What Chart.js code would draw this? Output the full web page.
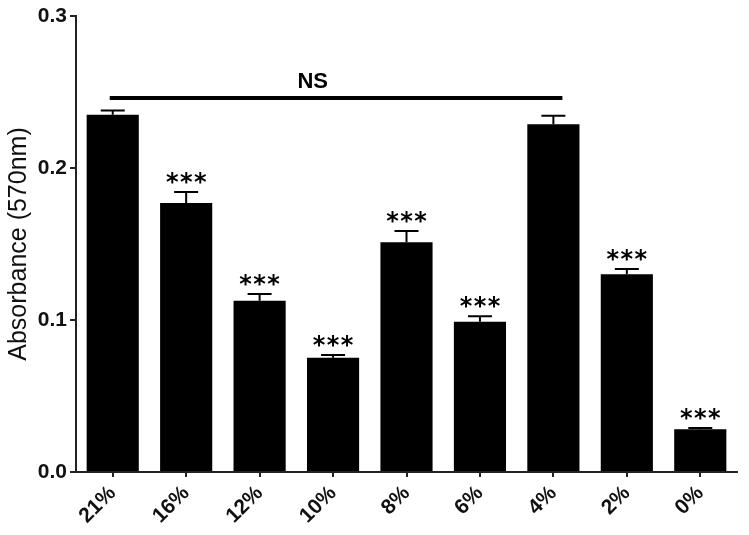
<!DOCTYPE html>
<html>
<head>
<meta charset="utf-8">
<title>Absorbance</title>
<style>
    body { margin: 0; background: #fff; }
    canvas { display: block; }
</style>
<script src="https://cdn.jsdelivr.net/npm/chart.js"></script>
</head>
<body>
<canvas id="myChart" width="749" height="535"></canvas>
<script>
    // oxygen levels on the x axis
    var labels = ['21%', '16%', '12%', '10%', '8%', '6%', '4%', '2%', '0%'];
    // mean absorbance and upper error (SEM)
    var means = [0.235, 0.177, 0.1127, 0.0752, 0.1511, 0.0989, 0.2288, 0.1301, 0.0281];
    var errors = [0.0028, 0.0072, 0.0044, 0.0018, 0.0075, 0.0035, 0.0056, 0.0035, 0.0008];
    var stars = ['', '***', '***', '***', '***', '***', '', '***', '***'];
    var yTicks = [0.0, 0.1, 0.2, 0.3];
    // "NS" bracket: from first to last group, at this height
    var nsFrom = 0, nsTo = 6, nsLevel = 0.246, nsText = 'NS';

    var axisColor = '#222';

    var errorPlugin = {
        id: 'errorBars',
        afterDatasetsDraw: function (chart) {
            var ctx = chart.ctx;
            var y = chart.scales.y;
            var x = chart.scales.x;
            var meta = chart.getDatasetMeta(0);
            ctx.save();
            ctx.strokeStyle = '#000';
            ctx.fillStyle = '#000';
            ctx.lineWidth = 2;
            meta.data.forEach(function (bar, i) {
                var top = y.getPixelForValue(means[i] + errors[i]);
                ctx.beginPath();
                ctx.moveTo(bar.x, bar.y);
                ctx.lineTo(bar.x, top);
                ctx.moveTo(bar.x - 12, top);
                ctx.lineTo(bar.x + 12, top);
                ctx.stroke();
                if (stars[i]) {
                    ctx.font = 'bold 24px "DejaVu Sans"';
                    ctx.textAlign = 'center';
                    ctx.textBaseline = 'alphabetic';
                    var m = ctx.measureText('*');
                    var cy = top - 14;
                    var base = cy + (m.actualBoundingBoxAscent - m.actualBoundingBoxDescent) / 2;
                    for (var k = 0; k < stars[i].length; k++) {
                        ctx.fillText('*', bar.x + (k - (stars[i].length - 1) / 2) * 14, base);
                    }
                }
            });
            // NS bracket
            var ly = y.getPixelForValue(nsLevel);
            ctx.lineWidth = 4;
            ctx.beginPath();
            ctx.moveTo(x.getPixelForValue(nsFrom) - 3, ly);
            ctx.lineTo(x.getPixelForValue(nsTo) + 9, ly);
            ctx.stroke();
            ctx.font = 'bold 22px "Liberation Sans"';
            ctx.textAlign = 'center';
            ctx.textBaseline = 'alphabetic';
            ctx.fillText(nsText, x.getPixelForValue(nsFrom) + 200, ly - 10);
            ctx.restore();
        }
    };

    var ctx = document.getElementById('myChart').getContext('2d');
    var myChart = new Chart(ctx, {
        type: 'bar',
        data: {
            labels: labels,
            datasets: [{
                data: means,
                backgroundColor: '#000',
                borderWidth: 0,
                barPercentage: 0.71,
                categoryPercentage: 1.0
            }]
        },
        options: {
            responsive: false,
            animation: false,
            layout: { padding: { top: 16, right: 12, left: 0, bottom: 0 } },
            plugins: {
                legend: { display: false },
                tooltip: { enabled: false }
            },
            scales: {
                x: {
                    offset: true,
                    grid: { display: true, drawOnChartArea: false, drawTicks: true, tickLength: 5, color: axisColor, lineWidth: 2, offset: false },
                    border: { display: true, color: axisColor, width: 2 },
                    ticks: {
                        maxRotation: 45,
                        minRotation: 45,
                        padding: 4,
                        color: '#111',
                        font: { family: 'Liberation Sans', size: 21, weight: 'bold' }
                    },
                    afterFit: function (s) { s.height = 63; }
                },
                y: {
                    min: 0,
                    max: 0.3,
                    afterBuildTicks: function (s) {
                        s.ticks = yTicks.map(function (v) { return { value: v }; });
                    },
                    grid: { display: true, drawOnChartArea: false, drawTicks: true, tickLength: 6, color: axisColor, lineWidth: 2 },
                    border: { display: true, color: axisColor, width: 2 },
                    ticks: {
                        padding: 3,
                        color: '#111',
                        font: { family: 'Liberation Sans', size: 21, weight: 'bold' },
                        callback: function (v) { return Number(v).toFixed(1); }
                    },
                    title: {
                        display: true,
                        text: 'Absorbance (570nm)',
                        color: '#111',
                        font: { family: 'Liberation Sans', size: 25 },
                        padding: { top: 4, bottom: 0 }
                    },
                    afterFit: function (s) { s.width = 76; }
                }
            }
        },
        plugins: [errorPlugin]
    });
</script>
</body>
</html>
